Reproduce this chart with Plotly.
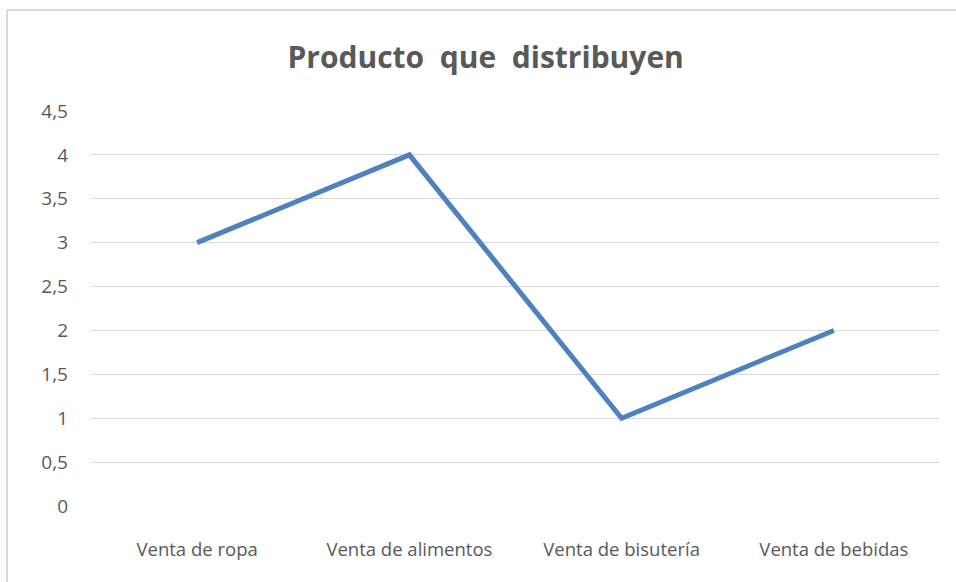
import plotly.graph_objects as go

# --- datos ---
categorias = ["Venta de ropa", "Venta de alimentos", "Venta de bisutería", "Venta de bebidas"]
valores = [3, 4, 1, 2]

GRIS_TEXTO = "#595959"
GRIS_LINEA = "#d9d9d9"
AZUL = "#4f81bd"

fig = go.Figure()

fig.add_trace(go.Scatter(
    x=categorias, y=valores, mode="lines",
    line=dict(color=AZUL, width=5),
    showlegend=False, hoverinfo="x+y",
))

fig.update_layout(
    width=956, height=582,
    margin=dict(l=91, r=16, t=111, b=76),
    paper_bgcolor="white", plot_bgcolor="white",
    separators=", ",
    font=dict(family="Open Sans, Liberation Sans, sans-serif", color=GRIS_TEXTO),
    title=dict(
        text="Producto  que  distribuyen",
        x=0.508, xanchor="center", y=0.902, yanchor="middle",
        font=dict(size=30, color=GRIS_TEXTO, family="Open Sans, sans-serif", weight="bold"),
    ),
    # borde del área del gráfico (solo se ven arriba e izquierda)
    shapes=[
        dict(type="line", xref="paper", yref="paper", x0=-0.0989, x1=1.2, y0=1.2557, y1=1.2557,
             line=dict(color=GRIS_LINEA, width=2)),
        dict(type="line", xref="paper", yref="paper", x0=-0.0989, x1=-0.0989, y0=-0.3, y1=1.2557,
             line=dict(color=GRIS_LINEA, width=2)),
    ],
)

fig.update_xaxes(
    range=[-0.5, 3.5], automargin=False,
    showgrid=False, showline=False, zeroline=False,
    tickfont=dict(size=18.5, color=GRIS_TEXTO),
    ticklabelstandoff=30,
)

fig.update_yaxes(
    range=[0, 4.5], dtick=0.5, automargin=False,
    showgrid=True, gridcolor=GRIS_LINEA, gridwidth=1,
    zeroline=False, showline=False,
    tickfont=dict(size=19, color=GRIS_TEXTO),
    ticklabelstandoff=22,
)

fig.write_html(
    "out.html",
    config={"displayModeBar": False},
    post_script="document.body.style.margin='0';document.body.style.overflow='hidden';",
)
